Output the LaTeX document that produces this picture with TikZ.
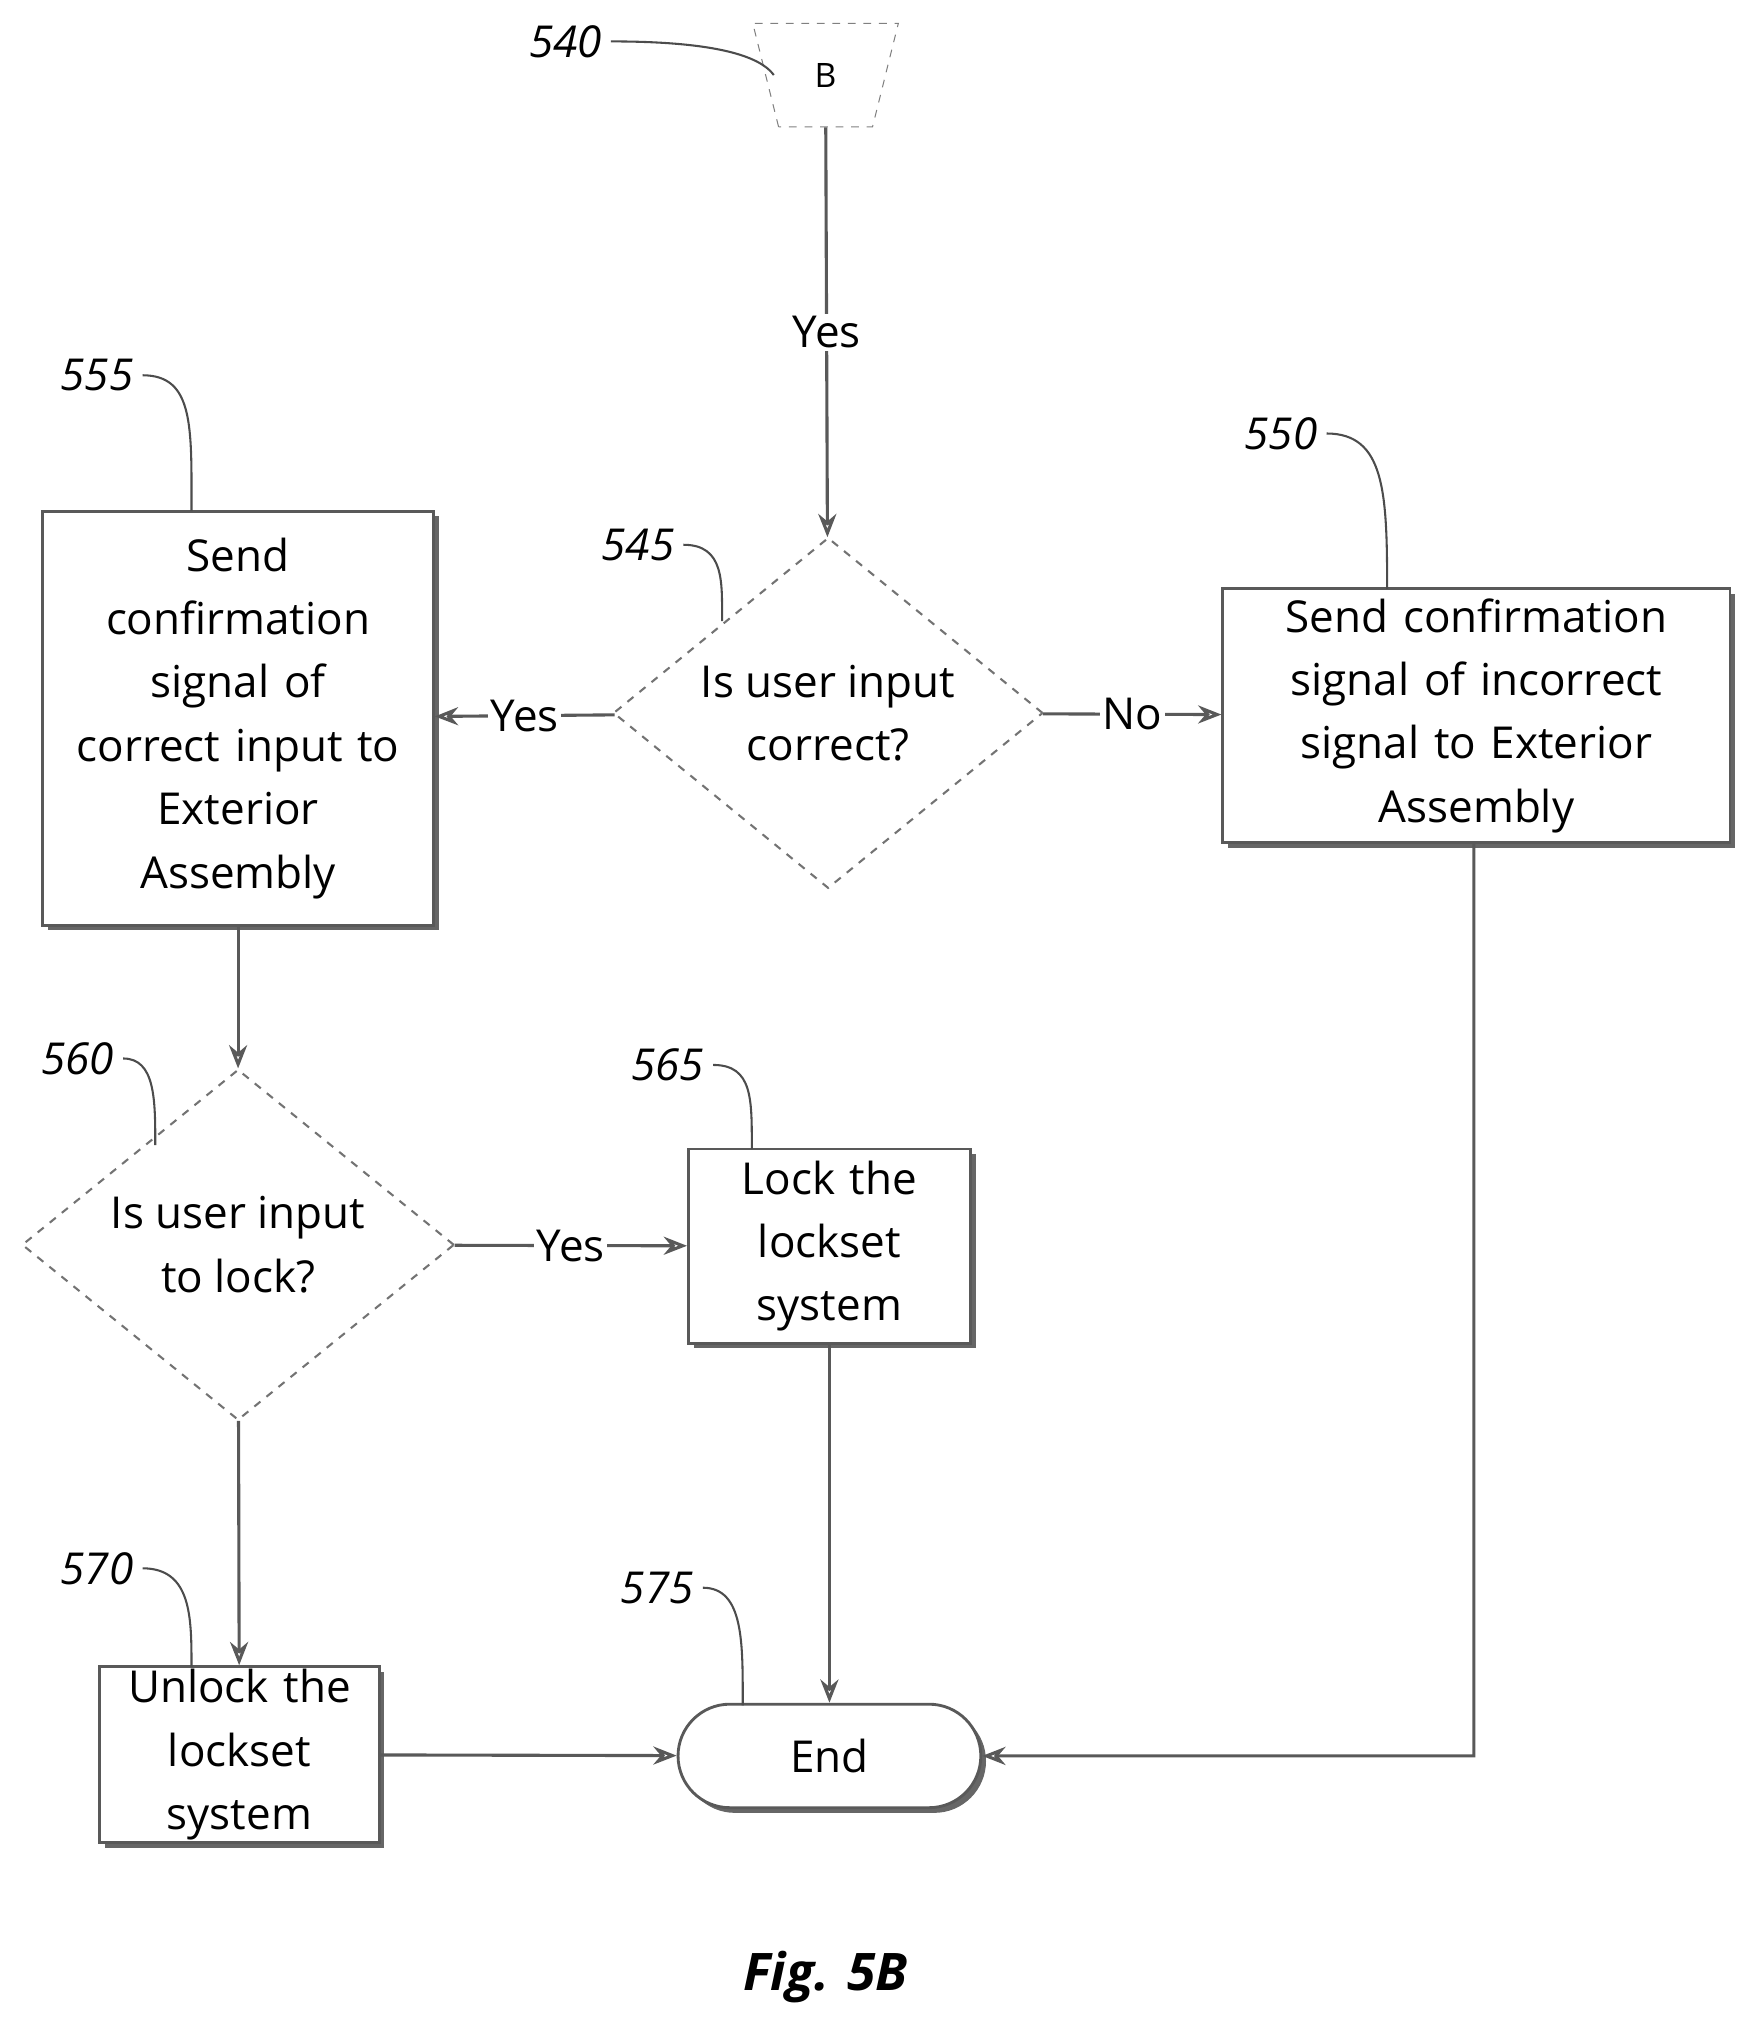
\documentclass[tikz,border=0pt]{standalone}
\usepackage{fontspec}
\setmainfont{Open Sans}
\usetikzlibrary{shapes.geometric,shapes.misc,shadows,arrows.meta}
\begin{document}
\begin{tikzpicture}[x=0.5pt,y=-0.5pt,
  ln/.style={draw=black!65,line width=1.2pt},
  arr/.style={ln,-{Stealth[length=9pt,width=7pt,open]}},
  box/.style={draw=black!65,line width=1.1pt,fill=white,align=center,font=\fontsize{17}{24.5}\selectfont,inner sep=0pt,
     drop shadow={shadow xshift=2pt,shadow yshift=-2pt,fill=black!60,opacity=1}},
  dia/.style={diamond,draw=black!55,dashed,line width=0.8pt,fill=white,align=center,font=\fontsize{17}{24.5}\selectfont,inner sep=0pt},
  lab/.style={font=\fontsize{17}{20}\itshape\selectfont},
  lead/.style={draw=black!70,line width=0.8pt},
  yl/.style={fill=white,font=\fontsize{17}{20}\selectfont,inner sep=1pt}]
\useasboundingbox (0,0) rectangle (1361,1575);
% nodes
\node[trapezium,trapezium angle=-76,draw=black!50,dashed,minimum width=40pt,minimum height=40pt,inner sep=0pt,font=\fontsize{13}{15}\selectfont] (b) at (638,58) {B};
\node[dia,minimum width=166pt,minimum height=118pt] (d545) at (640,551) {Is user input\\correct?};
\node[box,minimum width=151pt,minimum height=160pt,text width=150pt] (b555) at (184,555) {Send\\confirmation\\signal of\\correct input to\\Exterior\\Assembly};
\node[box,minimum width=196pt,minimum height=98pt,text width=195pt] (b550) at (1141,553) {Send confirmation\\signal of incorrect\\signal to Exterior\\Assembly};
\node[dia,minimum width=167pt,minimum height=120pt] (d560) at (184,962) {Is user input\\to lock?};
\node[box,minimum width=109pt,minimum height=75pt,text width=108pt] (b565) at (641,963) {Lock the\\lockset\\system};
\node[box,minimum width=108pt,minimum height=68pt,text width=108pt] (b570) at (185,1356) {Unlock the\\lockset\\system};
\node[box,rounded rectangle,minimum width=117pt,minimum height=40pt,font=\fontsize{17}{20}\selectfont] (end) at (641,1357) {End};
% connectors
\draw[arr] (b) -- node[yl]{Yes} (d545);
\draw[arr] (d545) -- node[yl]{Yes} (b555);
\draw[arr] (d545) -- node[yl]{No} (b550);
\draw[arr] (b555) -- (d560);
\draw[arr] (d560) -- node[yl]{Yes} (b565);
\draw[arr] (d560) -- (b570);
\draw[arr] (b565) -- (end);
\draw[arr] (b570) -- (end);
\coordinate (c1) at (1139,1357);
\draw[arr] (b550.south -| c1) -- (c1) -- (end);
% labels
\node[lab] (l540) at (437,32) {540};
\node[lab] (l555) at (75,290) {555};
\node[lab] (l550) at (990,335) {550};
\node[lab] (l545) at (493,421) {545};
\node[lab] (l560) at (60,818) {560};
\node[lab] (l565) at (516,823) {565};
\node[lab] (l575) at (508,1227) {575};
\node[lab] (l570) at (75,1212) {570};
\draw[lead] (l540.east) .. controls (540,32) and (585,40) .. (598,58);
\draw[lead] (l555.east) .. controls (150,290) and (148,330) .. (148,395);
\draw[lead] (l550.east) .. controls (1070,335) and (1072,380) .. (1072,455);
\draw[lead] (l545.east) .. controls (560,421) and (558,450) .. (558,480);
\draw[lead] (l560.east) .. controls (120,818) and (120,850) .. (120,885);
\draw[lead] (l565.east) .. controls (582,823) and (581,850) .. (581,888);
\draw[lead] (l575.east) .. controls (575,1227) and (574,1270) .. (574,1318);
\draw[lead] (l570.east) .. controls (148,1212) and (148,1250) .. (148,1288);
\node[font=\fontsize{20}{24}\bfseries\itshape\selectfont] (fig) at (638,1528) {Fig. 5B};
\end{tikzpicture}
\end{document}
